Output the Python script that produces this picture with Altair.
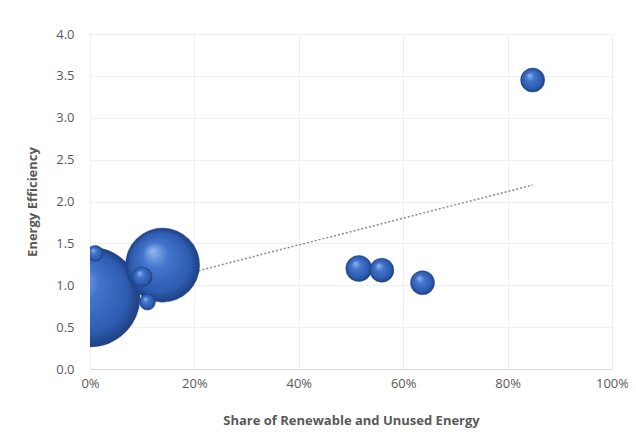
import altair as alt
import pandas as pd

# data
share = [0.0, 0.01, 0.10, 0.11, 0.139, 0.515, 0.559, 0.637, 0.848]
efficiency = [0.86, 1.38, 1.10, 0.80, 1.24, 1.20, 1.18, 1.03, 3.45]
volume = [2500, 64, 100, 64, 1370, 170, 145, 145, 145]

df = pd.DataFrame({"share": share, "eff": efficiency, "vol": volume})

x_ticks = [0, 0.2, 0.4, 0.6, 0.8, 1.0]
y_ticks = [0, 0.5, 1.0, 1.5, 2.0, 2.5, 3.0, 3.5, 4.0]

FONT = "Open Sans"
GREY = "#595959"

x_enc = alt.X("share:Q", scale=alt.Scale(domain=[0, 1], nice=False),
              axis=alt.Axis(values=x_ticks, format=".0%", labelFlush=False,
                            title="Share of Renewable and Unused Energy"))
y_enc = alt.Y("eff:Q", scale=alt.Scale(domain=[0, 4], nice=False),
              axis=alt.Axis(values=y_ticks, format=".1f", labelFlush=False,
                            title="Energy Efficiency"))

sphere = alt.RadialGradient(
    gradient="radial",
    x1=0.36, y1=0.3, r1=0.0,
    x2=0.5, y2=0.5, r2=0.5,
    stops=[
        alt.GradientStop(offset=0.0, color="#93b8ee"),
        alt.GradientStop(offset=0.35, color="#4375cc"),
        alt.GradientStop(offset=0.8, color="#2d5cb0"),
        alt.GradientStop(offset=1.0, color="#1f3f80"),
    ],
)

trend = alt.Chart(df).transform_regression("share", "eff").mark_line(
    color="#8a8a8a", strokeDash=[2, 2], strokeWidth=1.5, clip=True
).encode(x=x_enc, y=y_enc)

bubbles = alt.Chart(df).mark_point(
    shape="circle", filled=True, fill=sphere, opacity=1, clip=True,
    stroke="#234a93", strokeWidth=0.5
).encode(
    x=x_enc,
    y=y_enc,
    size=alt.Size("vol:Q", scale=alt.Scale(domain=[0, 2500], range=[0, 10000]), legend=None),
    order=alt.Order("vol:Q", sort="descending"),
)

chart = alt.layer(trend, bubbles).properties(
    width=522, height=335,
    padding={"left": 82, "top": 26, "right": 16, "bottom": 62},
    autosize=alt.AutoSizeParams(type="none"),
    background="white",
).configure_view(stroke=None).configure_axis(
    labelFont=FONT, titleFont=FONT, labelColor=GREY, titleColor=GREY,
    labelFontSize=13, titleFontSize=13, titleFontWeight="bold",
    grid=True, gridColor="#efefef", domainColor="#d9d9d9", ticks=False,
).configure_axisY(domain=False, titlePadding=16, labelPadding=16).configure_axisX(
    titlePadding=24, labelPadding=8)

chart.save("out.html", embed_options={"renderer": "svg", "actions": False})
